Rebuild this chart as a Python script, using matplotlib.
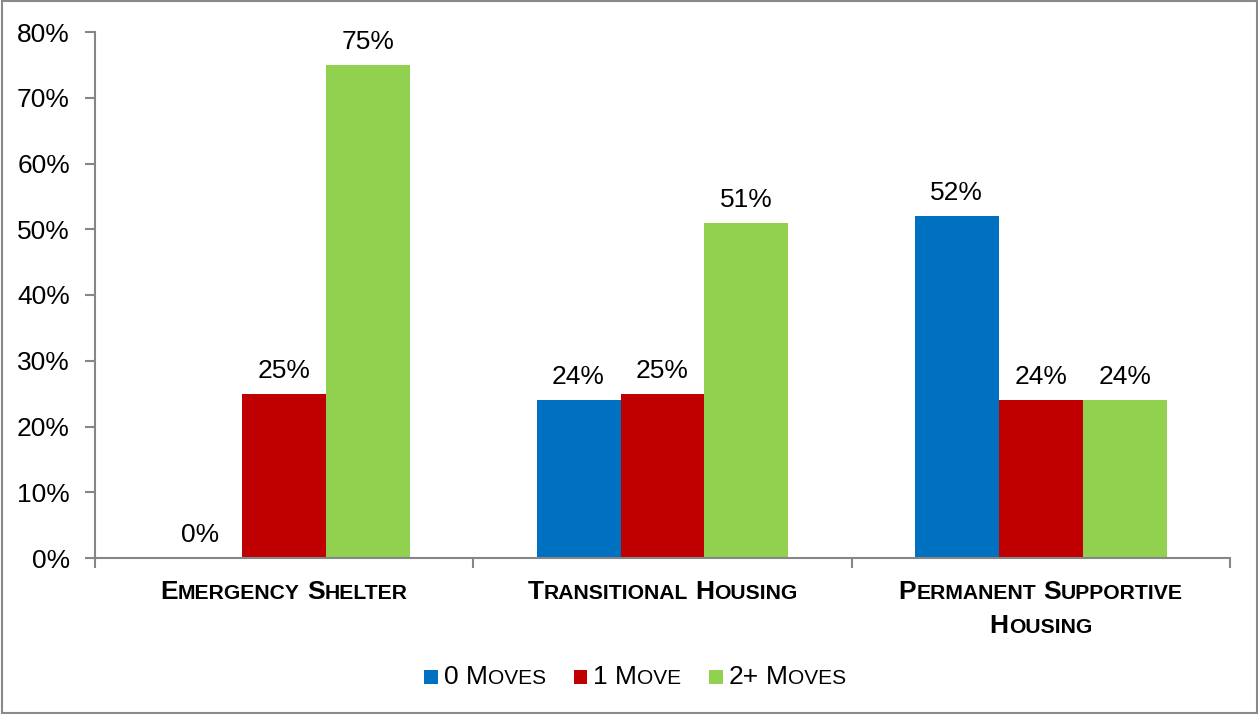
import matplotlib
matplotlib.use("Agg")
import matplotlib.pyplot as plt
import numpy as np
from matplotlib.offsetbox import TextArea, HPacker, VPacker, AnnotationBbox, DrawingArea
from matplotlib.patches import Rectangle

# ---- data ----
categories = ["Emergency Shelter", "Transitional Housing", "Permanent Supportive\nHousing"]
series_names = ["0 Moves", "1 Move", "2+ Moves"]
moves0 = [0.00, 0.24, 0.52]
moves1 = [0.25, 0.25, 0.24]
moves2 = [0.75, 0.51, 0.24]
colors = ["#0070C0", "#C00000", "#92D050"]
yticks = [0.0, 0.1, 0.2, 0.3, 0.4, 0.5, 0.6, 0.7, 0.8]
ytick_labels = ["0%", "10%", "20%", "30%", "40%", "50%", "60%", "70%", "80%"]

FONT = "Liberation Sans"
plt.rcParams["font.family"] = [FONT, "DejaVu Sans"]
AX_GREY = "#868686"

fig = plt.figure(figsize=(12.59, 7.14), dpi=100)
ax = fig.add_axes([95 / 1259, 1 - 558 / 714, (1230 - 95) / 1259, (558 - 32) / 714])

x = np.arange(len(categories))
w = 0.222
series = [moves0, moves1, moves2]
for i, (vals, col) in enumerate(zip(series, colors)):
    bars = ax.bar(x + (i - 1) * w, vals, width=w, color=col, edgecolor="none")
    ax.bar_label(bars, labels=[f"{round(v * 100)}%" for v in vals], padding=8,
                 fontsize=19, color="black")

ax.set_xlim(-0.5, len(categories) - 0.5)
ax.set_ylim(0, 0.8)
ax.set_yticks(yticks)
ax.set_yticklabels(ytick_labels, fontsize=19)
ax.tick_params(axis="y", direction="out", length=7, width=1.5, color=AX_GREY, pad=11)
ax.set_xticks(np.arange(-0.5, len(categories)))
ax.set_xticklabels([])
ax.tick_params(axis="x", direction="out", length=7, width=1.5, color=AX_GREY)
for s in ["top", "right"]:
    ax.spines[s].set_visible(False)
for s in ["left", "bottom"]:
    ax.spines[s].set_color(AX_GREY)
    ax.spines[s].set_linewidth(1.5)


def smallcaps_line(text, big, small, weight="normal"):
    words = text.split(" ")
    word_boxes = []
    for wd in words:
        runs = []
        cur = ""
        cur_low = None
        for ch in wd:
            low = ch.islower()
            if cur_low is None or low == cur_low:
                cur += ch
            else:
                runs.append((cur, cur_low))
                cur = ch
            cur_low = low
        if cur:
            runs.append((cur, cur_low))
        parts = []
        for r, low in runs:
            parts.append(TextArea(r.upper(), textprops=dict(
                fontsize=small if low else big, fontweight=weight,
                family=[FONT, "DejaVu Sans"], color="black")))
        word_boxes.append(HPacker(children=parts, sep=0, pad=0, align="baseline"))
    return HPacker(children=word_boxes, sep=big * 0.278, pad=0, align="baseline")


def smallcaps_block(text, big, small, weight="normal", sep=0):
    lines = [smallcaps_line(t, big, small, weight) for t in text.split("\n")]
    if len(lines) == 1:
        return lines[0]
    return VPacker(children=lines, sep=sep, pad=0, align="center")


for i, cat in enumerate(categories):
    box = smallcaps_block(cat, 19, 15.2, weight="bold", sep=7)
    ab = AnnotationBbox(box, (i, 0), xycoords=("data", "axes fraction"),
                        xybox=(0, -16), boxcoords="offset points",
                        box_alignment=(0.5, 1), frameon=False, pad=0)
    ax.add_artist(ab)

# legend
items = []
for name, col in zip(series_names, colors):
    da = DrawingArea(10, 10, 0, 0)
    da.add_artist(Rectangle((0, 0), 10, 10, facecolor=col, edgecolor="none"))
    txt = smallcaps_line(name, 19, 15)
    items.append(HPacker(children=[da, txt], sep=4, pad=0, align="center"))
legend_box = HPacker(children=items, sep=20, pad=0, align="center")
lab = AnnotationBbox(legend_box, (635 / 1259, 1 - 677 / 714), xycoords="figure fraction",
                     box_alignment=(0.5, 0.5), frameon=False, pad=0)
fig.add_artist(lab)

# outer border
fig.add_artist(Rectangle((0.0015, 0.002), 0.997, 0.996, transform=fig.transFigure,
                         facecolor="none", edgecolor="#898989", linewidth=1.5))

fig.savefig("out.png", dpi=100)
